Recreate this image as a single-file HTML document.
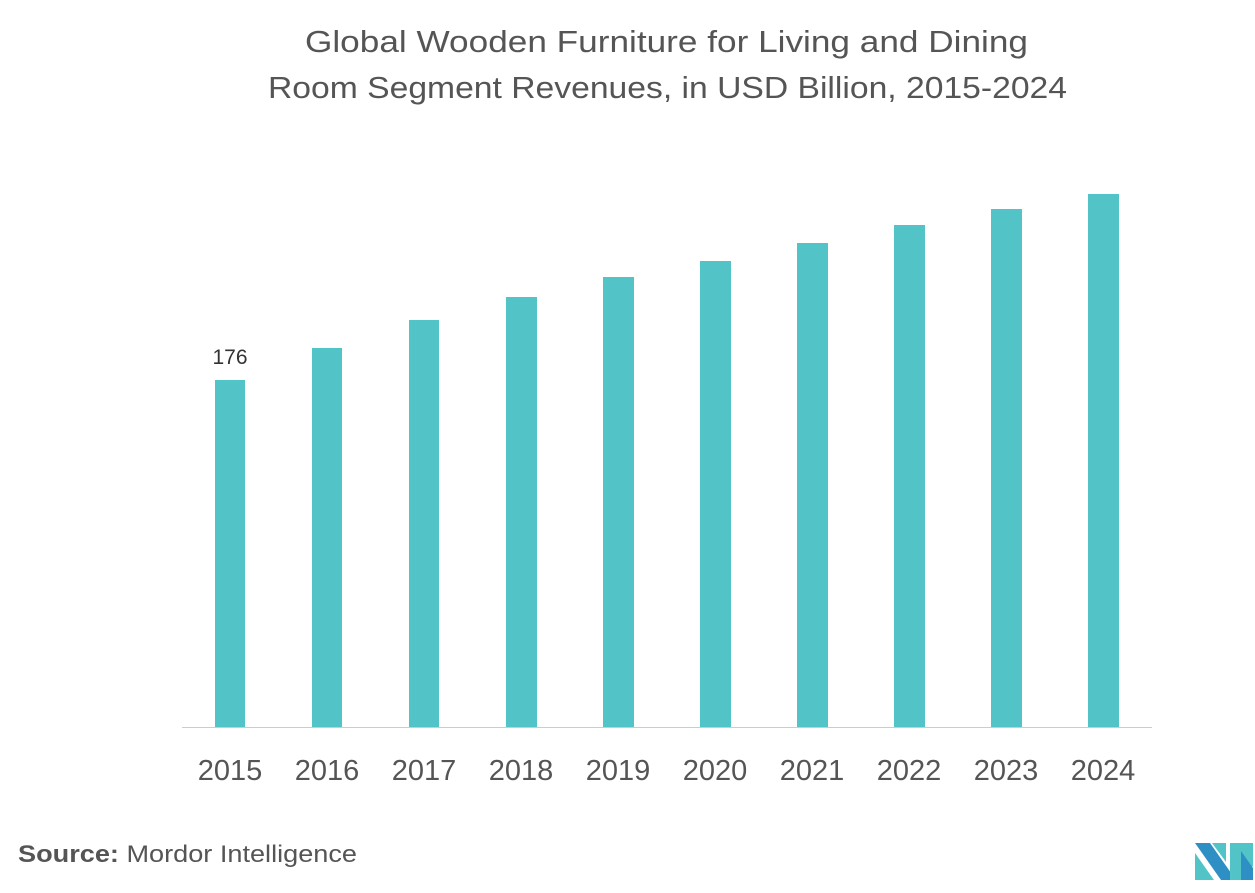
<!DOCTYPE html>
<html><head><style>
body{margin:0;background:#fff;width:1255px;height:888px;overflow:hidden;font-family:"Liberation Sans",sans-serif;}
</style></head><body>
<svg width="1255" height="888" xmlns="http://www.w3.org/2000/svg" font-family="Liberation Sans, sans-serif">
<text x="305" y="52" font-size="31" fill="#555" textLength="723" lengthAdjust="spacingAndGlyphs">Global Wooden Furniture for Living and Dining</text>
<text x="268" y="98" font-size="31" fill="#555" textLength="799" lengthAdjust="spacingAndGlyphs">Room Segment Revenues, in USD Billion, 2015-2024</text>
<g fill="#52c4c7">
<rect x="215" y="380" width="30" height="347"/>
<rect x="312" y="348" width="30" height="379"/>
<rect x="409" y="320" width="30" height="407"/>
<rect x="506" y="297" width="31" height="430"/>
<rect x="603" y="277" width="31" height="450"/>
<rect x="700" y="261" width="31" height="466"/>
<rect x="797" y="243" width="31" height="484"/>
<rect x="894" y="225" width="31" height="502"/>
<rect x="991" y="209" width="31" height="518"/>
<rect x="1088" y="194" width="31" height="533"/>
</g>
<line x1="182" y1="727.5" x2="1152" y2="727.5" stroke="#ccc" stroke-width="1"/>
<text x="230" y="364" font-size="21" fill="#333" text-anchor="middle">176</text>
<g font-size="29" fill="#555" text-anchor="middle">
<text x="230" y="780">2015</text><text x="327" y="780">2016</text><text x="424" y="780">2017</text>
<text x="521" y="780">2018</text><text x="618" y="780">2019</text><text x="715" y="780">2020</text>
<text x="812" y="780">2021</text><text x="909" y="780">2022</text><text x="1006" y="780">2023</text>
<text x="1103" y="780">2024</text>
</g>
<text x="18" y="862" font-size="24" fill="#555" textLength="339" lengthAdjust="spacingAndGlyphs"><tspan font-weight="bold">Source:</tspan> Mordor Intelligence</text>
<g>
<polygon points="1195,843 1210,843 1236,880 1221,880" fill="#2e8fc4"/>
<polygon points="1195,853 1214,880 1195,880" fill="#52c4c7"/>
<polygon points="1212,843 1226,843 1226,862" fill="#52c4c7"/>
<polygon points="1230,843 1253,843 1253,866 1241,880 1230,880" fill="#52c4c7"/>
<polygon points="1241,851 1253,868 1253,880 1241,880" fill="#2e8fc4"/>
</g>
</svg>
</body></html>
